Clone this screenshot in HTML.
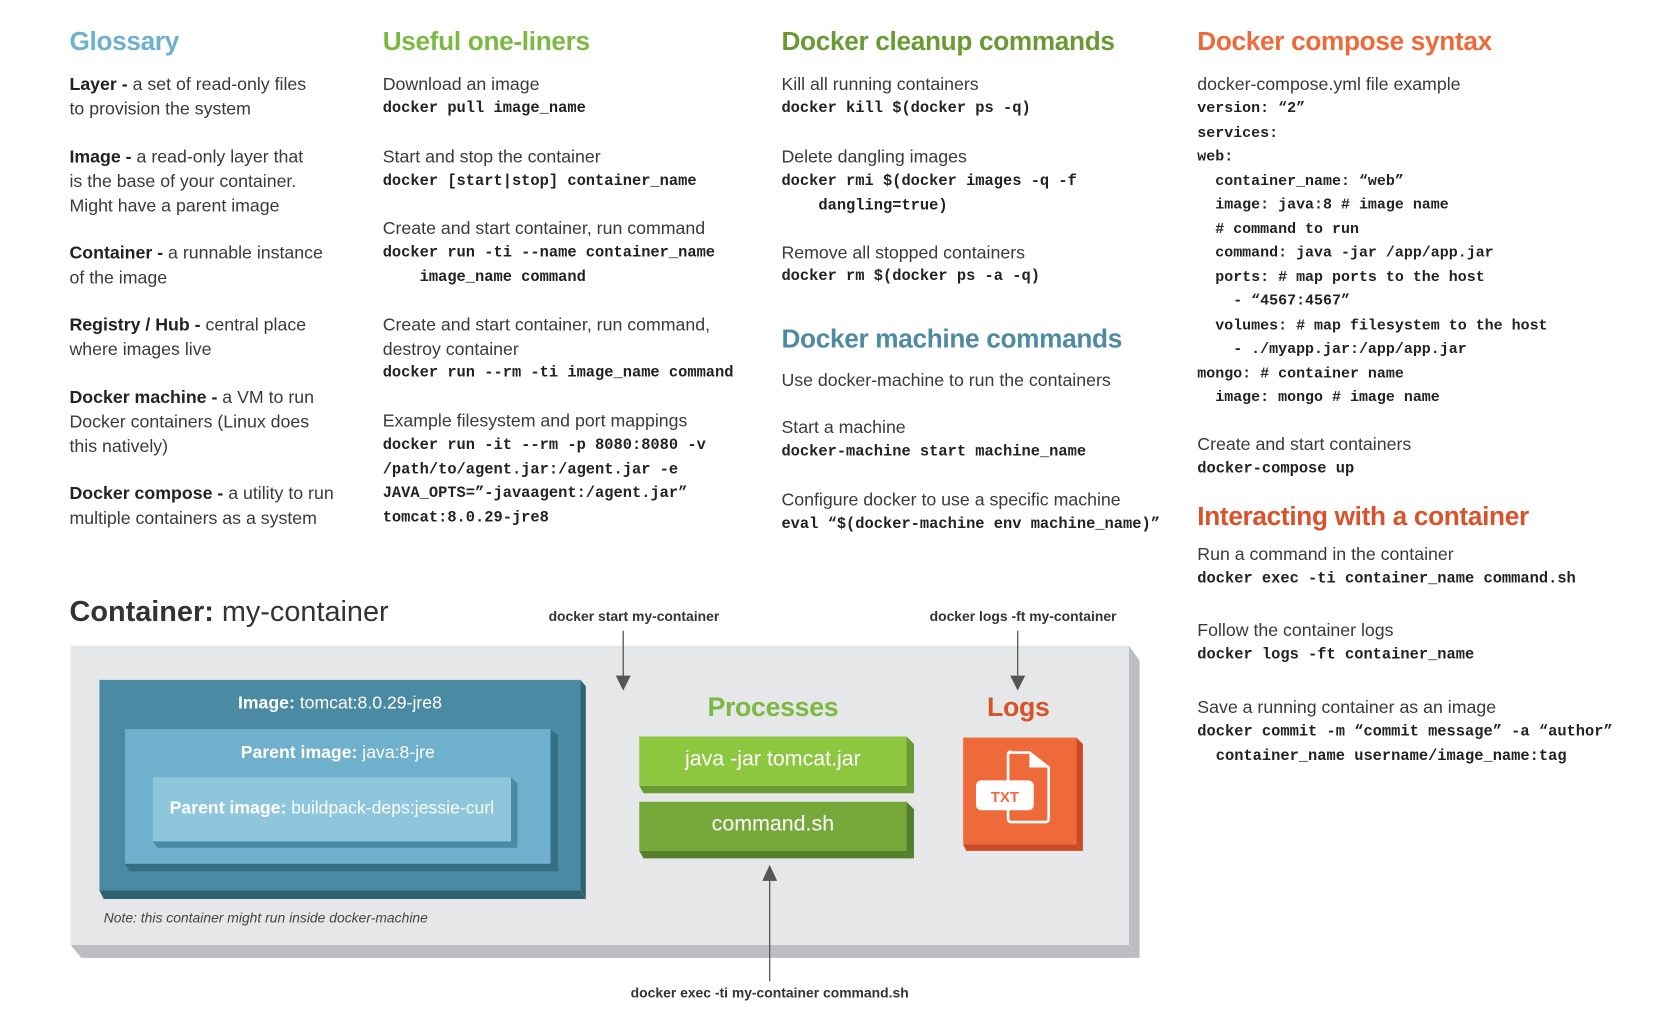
<!DOCTYPE html>
<html><head><meta charset="utf-8"><style>
html,body{margin:0;padding:0;background:#fff;width:1676px;height:1029px;overflow:hidden}
#w{position:absolute;left:0;top:0;width:1560px;height:958px;transform:scale(1.069);transform-origin:0 0;font-family:"Liberation Sans",sans-serif;color:#333}
.a{position:absolute;white-space:nowrap}
.h{font-weight:bold;font-size:24.5px;letter-spacing:-0.3px}
.t{font-size:16.6px;line-height:23px;color:#3a3a3a}
.t b{color:#222}
.c{font-family:"Liberation Mono",monospace;font-weight:bold;font-size:14.4px;line-height:22.5px;color:#222;white-space:pre}
.box{position:absolute}
.lbl{font-size:13px;font-weight:bold;color:#333}
</style></head><body><div id="w">

<div class="a h" style="left:65px;top:26px;color:#6fb0cd">Glossary</div>
<div class="a h" style="left:358px;top:26px;color:#7cb942">Useful one-liners</div>
<div class="a h" style="left:731px;top:26px;color:#6a9a34">Docker cleanup commands</div>
<div class="a h" style="left:1120px;top:26px;color:#ef6a3a">Docker compose syntax</div>

<div class="a t" style="left:65px;top:67px"><b>Layer -</b> a set of read-only files<br>to provision the system</div>
<div class="a t" style="left:65px;top:135px"><b>Image -</b> a read-only layer that<br>is the base of your container.<br>Might have a parent image</div>
<div class="a t" style="left:65px;top:225px"><b>Container -</b> a runnable instance<br>of the image</div>
<div class="a t" style="left:65px;top:292px"><b>Registry / Hub -</b> central place<br>where images live</div>
<div class="a t" style="left:65px;top:360px"><b>Docker machine -</b> a VM to run<br>Docker containers (Linux does<br>this natively)</div>
<div class="a t" style="left:65px;top:450px"><b>Docker compose -</b> a utility to run<br>multiple containers as a system</div>

<div class="a t" style="left:358px;top:67px">Download an image</div>
<div class="a c" style="left:358px;top:91px">docker pull image_name</div>
<div class="a t" style="left:358px;top:135px">Start and stop the container</div>
<div class="a c" style="left:358px;top:159px">docker [start|stop] container_name</div>
<div class="a t" style="left:358px;top:202px">Create and start container, run command</div>
<div class="a c" style="left:358px;top:226px">docker run -ti --name container_name
    image_name command</div>
<div class="a t" style="left:358px;top:292px">Create and start container, run command,<br>destroy container</div>
<div class="a c" style="left:358px;top:338px">docker run --rm -ti image_name command</div>
<div class="a t" style="left:358px;top:382px">Example filesystem and port mappings</div>
<div class="a c" style="left:358px;top:406px">docker run -it --rm -p 8080:8080 -v
/path/to/agent.jar:/agent.jar -e
JAVA_OPTS=”-javaagent:/agent.jar”
tomcat:8.0.29-jre8</div>

<div class="a t" style="left:731px;top:67px">Kill all running containers</div>
<div class="a c" style="left:731px;top:91px">docker kill $(docker ps -q)</div>
<div class="a t" style="left:731px;top:135px">Delete dangling images</div>
<div class="a c" style="left:731px;top:159px">docker rmi $(docker images -q -f
    dangling=true)</div>
<div class="a t" style="left:731px;top:225px">Remove all stopped containers</div>
<div class="a c" style="left:731px;top:248px">docker rm $(docker ps -a -q)</div>
<div class="a h" style="left:731px;top:304px;color:#4f8aa3">Docker machine commands</div>
<div class="a t" style="left:731px;top:344px">Use docker-machine to run the containers</div>
<div class="a t" style="left:731px;top:388px">Start a machine</div>
<div class="a c" style="left:731px;top:412px">docker-machine start machine_name</div>
<div class="a t" style="left:731px;top:456px">Configure docker to use a specific machine</div>
<div class="a c" style="left:731px;top:480px">eval “$(docker-machine env machine_name)”</div>

<div class="a t" style="left:1120px;top:67px">docker-compose.yml file example</div>
<div class="a c" style="left:1120px;top:91px;font-size:14px">version: “2”
services:
web:
  container_name: “web”
  image: java:8 # image name
  # command to run
  command: java -jar /app/app.jar
  ports: # map ports to the host
    - “4567:4567”
  volumes: # map filesystem to the host
    - ./myapp.jar:/app/app.jar
mongo: # container name
  image: mongo # image name</div>
<div class="a t" style="left:1120px;top:404px">Create and start containers</div>
<div class="a c" style="left:1120px;top:428px">docker-compose up</div>
<div class="a h" style="left:1120px;top:470px;color:#d9532a">Interacting with a container</div>
<div class="a t" style="left:1120px;top:507px">Run a command in the container</div>
<div class="a c" style="left:1120px;top:531px">docker exec -ti container_name command.sh</div>
<div class="a t" style="left:1120px;top:578px">Follow the container logs</div>
<div class="a c" style="left:1120px;top:602px">docker logs -ft container_name</div>
<div class="a t" style="left:1120px;top:650px">Save a running container as an image</div>
<div class="a c" style="left:1120px;top:674px">docker commit -m “commit message” -a “author”
  container_name username/image_name:tag</div>

<div class="a" style="left:65px;top:557px;font-size:27px;color:#333"><b>Container:</b> my-container</div>

<svg class="box" style="left:0;top:0" width="1560" height="958">
<polygon points="66,884 1056,884 1066,896 76,896" fill="#bcbdc0"/>
<polygon points="1056,604 1066,618 1066,896 1056,884" fill="#bcbdc0"/>
<rect x="66" y="604" width="990" height="280" fill="#e6e7e8"/>
<polygon points="93,833 543,833 548,841 97,841" fill="#2f6272"/>
<polygon points="543,636 548,642 548,841 543,833" fill="#2f6272"/>
<rect x="93" y="636" width="450" height="197" fill="#4a8aa2"/>
<polygon points="117,808 515,808 522,815 121,815" fill="#356f85"/>
<polygon points="515,682 522,688 522,815 515,808" fill="#356f85"/>
<rect x="117" y="682" width="398" height="126" fill="#6fb0cd"/>
<polygon points="143,787 478,787 484,793 147,793" fill="#4a8aa2"/>
<polygon points="478,727 484,733 484,793 478,787" fill="#4a8aa2"/>
<rect x="143" y="727" width="335" height="60" fill="#8ec6dc"/>
<polygon points="598,735 848,735 855,742 602,742" fill="#6a9a34"/>
<polygon points="848,689 855,696 855,742 848,735" fill="#6a9a34"/>
<rect x="598" y="689" width="250" height="46" fill="#8dc63f"/>
<polygon points="598,796 848,796 855,803 602,803" fill="#557f2c"/>
<polygon points="848,750 855,757 855,803 848,796" fill="#557f2c"/>
<rect x="598" y="750" width="250" height="46" fill="#76a83a"/>
<polygon points="901,790 1007,790 1013,796 904,796" fill="#cc4a24"/>
<polygon points="1007,690 1013,696 1013,796 1007,790" fill="#cc4a24"/>
<rect x="901" y="690" width="106" height="100" fill="#ef6a3a"/>
<path d="M943,704 h20 l18,14 v48 a3,3 0 0 1 -3,3 h-32 a3,3 0 0 1 -3,-3 v-60 a3,3 0 0 1 3,-3 z" fill="none" stroke="#fff" stroke-width="2.5"/>
<polygon points="963,704 981,718 963,718" fill="#fff"/>
<rect x="913" y="730" width="54" height="28" rx="5" fill="#fff"/>
<text x="940" y="750" font-family="Liberation Sans" font-weight="bold" font-size="14" fill="#ef6a3a" text-anchor="middle">TXT</text>
<line x1="583" y1="590" x2="583" y2="634" stroke="#555" stroke-width="1.2"/>
<polygon points="576,632 590,632 583,646" fill="#555"/>
<line x1="952" y1="590" x2="952" y2="634" stroke="#555" stroke-width="1.2"/>
<polygon points="945,632 959,632 952,646" fill="#555"/>
<line x1="720" y1="822" x2="720" y2="918" stroke="#555" stroke-width="1.2"/>
<polygon points="713,824 727,824 720,809" fill="#555"/>
</svg>

<div class="a" style="left:93px;top:649px;width:450px;text-align:center;color:#fff;font-size:16.5px"><b>Image:</b> tomcat:8.0.29-jre8</div>
<div class="a" style="left:117px;top:695px;width:398px;text-align:center;color:#fff;font-size:16.5px"><b>Parent image:</b> java:8-jre</div>
<div class="a" style="left:143px;top:747px;width:335px;text-align:center;color:#fff;font-size:16.5px"><b>Parent image:</b> buildpack-deps:jessie-curl</div>
<div class="a" style="left:97px;top:851px;font-size:13px;font-style:italic;color:#444">Note: this container might run inside docker-machine</div>
<div class="a h" style="left:598px;top:648px;width:250px;text-align:center;color:#7cb942;font-size:25px">Processes</div>
<div class="a h" style="left:890px;top:648px;width:125px;text-align:center;color:#d9532a;font-size:25px">Logs</div>
<div class="a" style="left:598px;top:699px;width:250px;text-align:center;color:#fff;font-size:20px">java -jar tomcat.jar</div>
<div class="a" style="left:598px;top:760px;width:250px;text-align:center;color:#fff;font-size:20px">command.sh</div>
<div class="a lbl" style="left:493px;top:569px;width:200px;text-align:center">docker start my-container</div>
<div class="a lbl" style="left:847px;top:569px;width:220px;text-align:center">docker logs -ft my-container</div>
<div class="a lbl" style="left:560px;top:921px;width:320px;text-align:center">docker exec -ti my-container command.sh</div>

</div></body></html>
